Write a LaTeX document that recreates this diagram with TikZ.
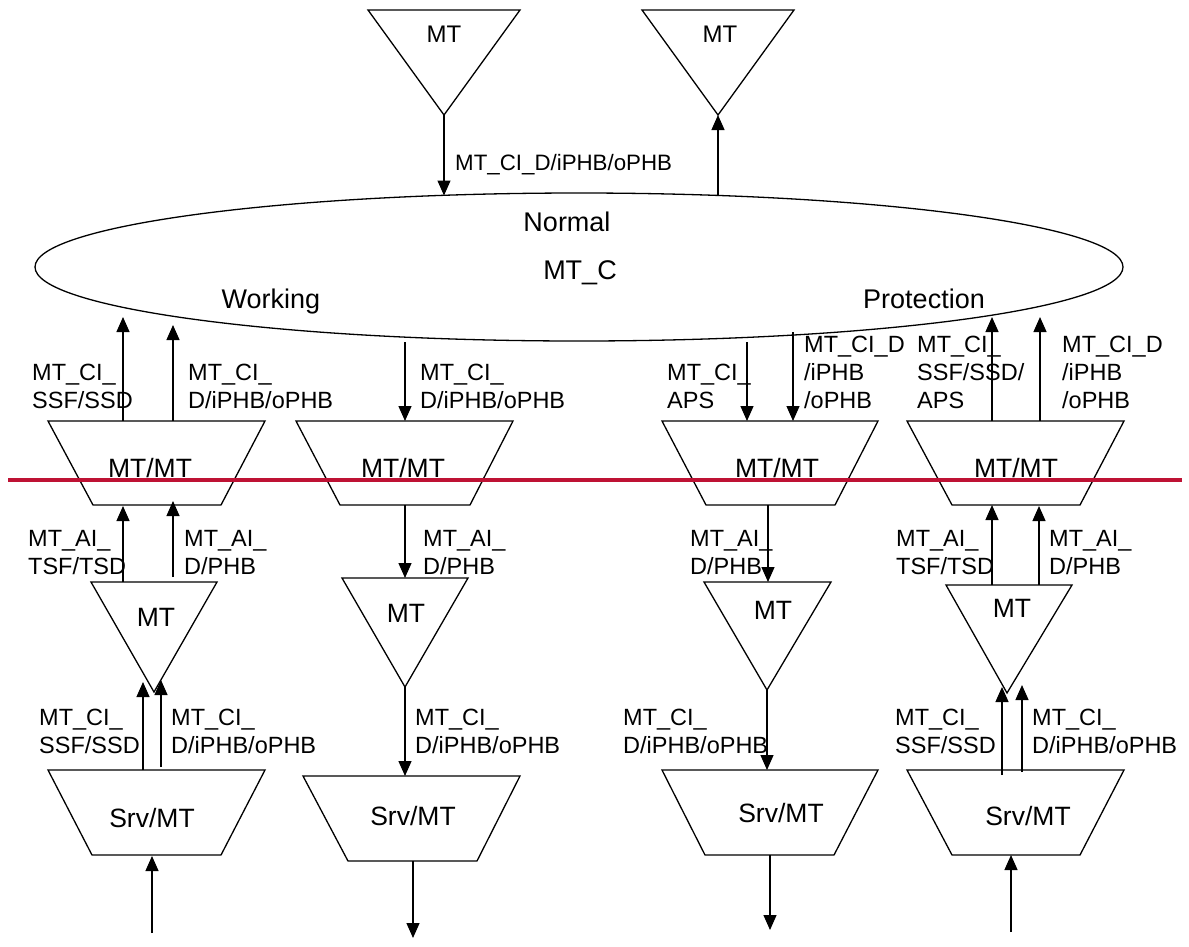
\documentclass[tikz,border=0pt]{standalone}
\usepackage{fontspec}
\setmainfont{Liberation Sans}
\usetikzlibrary{arrows.meta}
\definecolor{divider}{RGB}{190,18,52}
\begin{document}
\begin{tikzpicture}[x=1pt,y=-1pt,
  shapeline/.style={line width=1.3pt, line join=miter},
  conn/.style={line width=1.3pt, -{Triangle[width=13pt,length=15pt]}},
  boxtext/.style={font=\fontsize{26.5}{30}\selectfont, anchor=base, inner sep=0pt},
  toptext/.style={font=\fontsize{24}{28}\selectfont, anchor=base, inner sep=0pt},
  elltext/.style={font=\fontsize{27}{30}\selectfont, anchor=base, inner sep=0pt},
  lbl/.style={font=\fontsize{23.5}{28}\selectfont, anchor=base west, align=left, inner sep=0pt},
]
\useasboundingbox (0,0) rectangle (1189,946);

% ---------- top triangles ----------
\draw[shapeline] (368,10) -- (520,10) -- (444,115) -- cycle;
\draw[shapeline] (642,10) -- (794,10) -- (718,115) -- cycle;
\node[toptext] (tlmt) at (444,42) {MT};
\node[toptext] (trmt) at (720,42) {MT};
\coordinate (tlapex) at (444,115);
\coordinate (trapex) at (718,115);

% ---------- ellipse ----------
\coordinate (ellc) at (579,267);
\draw[shapeline] (ellc) ellipse [x radius=544, y radius=74];
\node[elltext] (normal) at (567,231) {Normal};
\node[elltext] (mtc) at (580,279) {MT\_C};
\node[elltext] (working) at (271,308) {Working};
\node[elltext] (protection) at (924,308) {Protection};
\coordinate (elltl) at (444,195.5);
\coordinate (elltr) at (718,195.5);

\draw[conn] (tlapex) -- (elltl);
\draw[conn] (elltr) -- (trapex);
\node[lbl, font=\fontsize{22.3}{28}\selectfont] (toplbl) at (455,170) {MT\_CI\_D/iPHB/oPHB};

% ---------- upper MT/MT trapezoids ----------
\draw[shapeline] (48,421) -- (265,421) -- (221,505) -- (93,505) -- cycle;
\draw[shapeline] (296,421) -- (513,421) -- (470,505) -- (340,505) -- cycle;
\draw[shapeline] (662,421) -- (878,421) -- (835,505) -- (706,505) -- cycle;
\draw[shapeline] (907,421) -- (1124,421) -- (1080,505) -- (952,505) -- cycle;
\node[boxtext] (u1) at (150,477) {MT/MT};
\node[boxtext] (u2) at (403,477) {MT/MT};
\node[boxtext] (u3) at (777,477) {MT/MT};
\node[boxtext] (u4) at (1016,477) {MT/MT};

% red divider
\coordinate (redl) at (8,480);
\coordinate (redr) at (1182,480);
\draw[divider, line width=3.5pt] (redl) -- (redr);

% upper connectors
\coordinate (a1s) at (123,421); \coordinate (a1e) at (123,317);
\coordinate (a2s) at (173,421); \coordinate (a2e) at (173,325);
\coordinate (a3s) at (405,342); \coordinate (a3e) at (405,421);
\coordinate (a4s) at (747,342); \coordinate (a4e) at (747,421);
\coordinate (a5s) at (793,332); \coordinate (a5e) at (793,421);
\coordinate (a6s) at (992,421); \coordinate (a6e) at (992,317);
\coordinate (a7s) at (1040,421); \coordinate (a7e) at (1040,317);
\foreach \n in {1,...,7} \draw[conn] (a\n s) -- (a\n e);

% (base anchor of a multi-line label = baseline of its last line)
\node[lbl] (lu1a) at (32,408) {MT\_CI\_\\SSF/SSD};
\node[lbl] (lu1b) at (188,408) {MT\_CI\_\\D/iPHB/oPHB};
\node[lbl] (lu2) at (420,408) {MT\_CI\_\\D/iPHB/oPHB};
\node[lbl] (lu3a) at (667,408) {MT\_CI\_\\APS};
\node[lbl] (lu3b) at (804,408) {MT\_CI\_D\\/iPHB\\/oPHB};
\node[lbl] (lu4a) at (917,408) {MT\_CI\_\\SSF/SSD/\\APS};
\node[lbl] (lu4b) at (1062,408) {MT\_CI\_D\\/iPHB\\/oPHB};

% ---------- middle MT triangles ----------
\draw[shapeline] (91,582) -- (217,582) -- (154,692) -- cycle;
\draw[shapeline] (342,578) -- (468,578) -- (405,687) -- cycle;
\draw[shapeline] (704,582) -- (831,582) -- (767,690) -- cycle;
\draw[shapeline] (946,585) -- (1072,585) -- (1007,693) -- cycle;
\node[boxtext] (m1) at (156,626) {MT};
\node[boxtext] (m2) at (406,622) {MT};
\node[boxtext] (m3) at (773,619) {MT};
\node[boxtext] (m4) at (1012,617) {MT};

\coordinate (b1s) at (123,582); \coordinate (b1e) at (123,506);
\coordinate (b2s) at (173,577); \coordinate (b2e) at (173,501);
\coordinate (b3s) at (405,505); \coordinate (b3e) at (405,578);
\coordinate (b4s) at (768,505); \coordinate (b4e) at (768,582);
\coordinate (b5s) at (992,585); \coordinate (b5e) at (992,505);
\coordinate (b6s) at (1039,585); \coordinate (b6e) at (1039,506);
\foreach \n in {1,...,6} \draw[conn] (b\n s) -- (b\n e);

\node[lbl] (lm1a) at (28,574) {MT\_AI\_\\TSF/TSD};
\node[lbl] (lm1b) at (184,574) {MT\_AI\_\\D/PHB};
\node[lbl] (lm2) at (423,574) {MT\_AI\_\\D/PHB};
\node[lbl] (lm3) at (690,574) {MT\_AI\_\\D/PHB};
\node[lbl] (lm4a) at (896,574) {MT\_AI\_\\TSF/TSD};
\node[lbl] (lm4b) at (1049,574) {MT\_AI\_\\D/PHB};

% ---------- lower Srv/MT trapezoids ----------
\draw[shapeline] (48,770) -- (265,770) -- (221,855) -- (92,855) -- cycle;
\draw[shapeline] (303,776) -- (520,776) -- (477,861) -- (348,861) -- cycle;
\draw[shapeline] (662,770) -- (878,770) -- (834,855) -- (705,855) -- cycle;
\draw[shapeline] (907,770) -- (1124,770) -- (1080,855) -- (952,855) -- cycle;
\node[boxtext] (s1) at (152,827) {Srv/MT};
\node[boxtext] (s2) at (413,825) {Srv/MT};
\node[boxtext] (s3) at (781,822) {Srv/MT};
\node[boxtext] (s4) at (1028,825) {Srv/MT};

\coordinate (c1s) at (143,770); \coordinate (c1e) at (143,682);
\coordinate (c2s) at (161,767); \coordinate (c2e) at (161,680);
\coordinate (c3s) at (405,687); \coordinate (c3e) at (405,776);
\coordinate (c4s) at (767,690); \coordinate (c4e) at (767,770);
\coordinate (c5s) at (1002,775); \coordinate (c5e) at (1002,687);
\coordinate (c6s) at (1022,772); \coordinate (c6e) at (1022,685);
\foreach \n in {1,...,6} \draw[conn] (c\n s) -- (c\n e);

\node[lbl] (ll1a) at (39,753) {MT\_CI\_\\SSF/SSD};
\node[lbl] (ll1b) at (171,753) {MT\_CI\_\\D/iPHB/oPHB};
\node[lbl] (ll2) at (415,753) {MT\_CI\_\\D/iPHB/oPHB};
\node[lbl] (ll3) at (623,753) {MT\_CI\_\\D/iPHB/oPHB};
\node[lbl] (ll4a) at (895,753) {MT\_CI\_\\SSF/SSD};
\node[lbl] (ll4b) at (1032,753) {MT\_CI\_\\D/iPHB/oPHB};

% ---------- bottom connectors ----------
\coordinate (d1s) at (152,933); \coordinate (d1e) at (152,856);
\coordinate (d2s) at (413,861); \coordinate (d2e) at (413,938);
\coordinate (d3s) at (770,855); \coordinate (d3e) at (770,930);
\coordinate (d4s) at (1011,932); \coordinate (d4e) at (1011,855);
\foreach \n in {1,...,4} \draw[conn] (d\n s) -- (d\n e);
\end{tikzpicture}
\end{document}
